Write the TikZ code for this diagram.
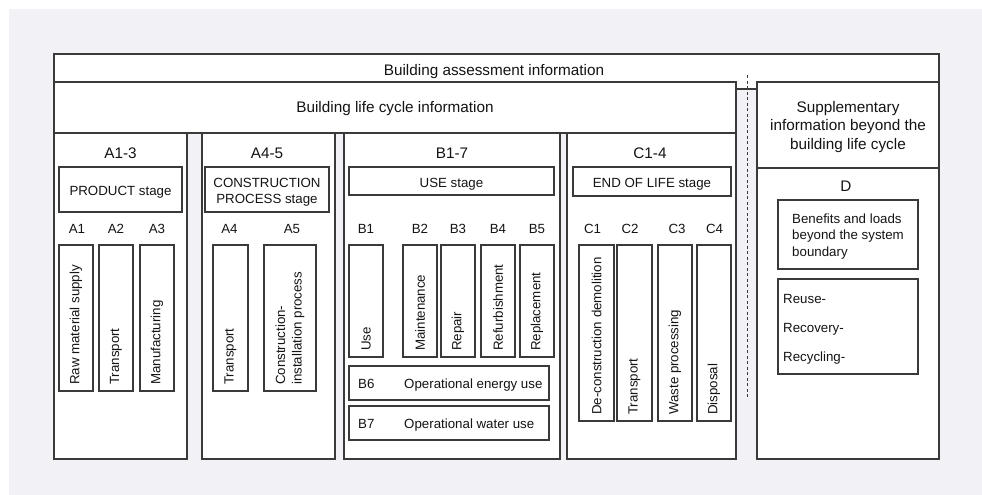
\documentclass[tikz,border=0pt]{standalone}
\usepackage{fontspec}
\setmainfont{Liberation Sans}
\usetikzlibrary{fit}
\definecolor{panelgrey}{RGB}{242,242,246}
\definecolor{edge}{RGB}{58,58,58}
\definecolor{ink}{RGB}{20,20,20}
\newcommand\hdfont{\fontsize{15.3}{18.3}\selectfont}
\newcommand\lbfont{\fontsize{13.3}{16.5}\selectfont}
% box from its top-left to its bottom-right corner (pixel-like units)
\newcommand\mkbox[5]{\node[frame, fit={(#2,#3) (#4,#5)}] (#1) {};}

\begin{document}
\begin{tikzpicture}[x=1pt,y=-1pt,
  frame/.style={draw=edge, fill=white, line width=1.1pt, inner sep=0pt, outer sep=0pt},
  head/.style={text=ink, font=\hdfont, inner sep=0pt, anchor=base},
  lab/.style={text=ink, font=\lbfont, inner sep=0pt, anchor=base},
  labw/.style={text=ink, font=\lbfont, inner sep=0pt, anchor=base west},
  vlab/.style={text=ink, font=\lbfont, inner sep=0pt, rotate=90, anchor=west, align=left},
  boundary/.style={draw=edge, line width=0.8pt, dash pattern=on 3pt off 2.5pt},
]
\useasboundingbox (0,0) rectangle (982,495);
\fill[panelgrey] (9,9) rectangle (982,495);

% outer frames
\mkbox{assess}{54}{54}{939}{89}
\mkbox{lifecycle}{54}{82}{736}{133}
\mkbox{supphead}{757}{82}{939}{168}
\mkbox{suppbody}{757}{168}{939}{459}

% module columns
\mkbox{colA}{54}{133}{187}{459}
\mkbox{colAc}{202}{133}{335}{459}
\mkbox{colB}{344}{133}{560}{459}
\mkbox{colC}{567}{133}{736}{459}

% stage boxes
\mkbox{prod}{59}{167}{182}{212}
\mkbox{constr}{205}{167}{329}{212}
\mkbox{usestage}{349}{167}{554}{195}
\mkbox{eol}{573}{167}{731}{196}

% module boxes
\mkbox{a1}{59}{245}{93}{391}
\mkbox{a2}{99}{245}{133}{391}
\mkbox{a3}{140}{245}{174}{391}
\mkbox{a4}{213}{245}{248}{391}
\mkbox{a5}{264}{245}{316}{391}
\mkbox{b1}{349}{245}{383}{357}
\mkbox{b2}{403}{245}{437}{357}
\mkbox{b3}{441}{245}{475}{357}
\mkbox{b4}{481}{245}{515}{357}
\mkbox{b5}{520}{245}{554}{357}
\mkbox{b6}{349}{366}{549}{400}
\mkbox{b7}{349}{406}{549}{440}
\mkbox{c1}{579}{245}{614}{421}
\mkbox{c2}{617}{245}{652}{421}
\mkbox{c3}{658}{245}{692}{421}
\mkbox{c4}{697}{245}{731}{421}
\mkbox{benefit}{778}{200}{918}{269}
\mkbox{reuse}{778}{279}{918}{374}

% system boundary
\coordinate (dtop) at (747,75);
\coordinate (dbot) at (747,398);
\draw[boundary] (dtop) -- (dbot);

% headings
\node[head] (tAssess) at (494,75) {Building assessment information};
\node[head] (tLife) at (395,112.5) {Building life cycle information};
\node[head] (tA13) at (120.5,158) {A1-3};
\node[head] (tA45) at (267,158) {A4-5};
\node[head] (tB17) at (452,158) {B1-7};
\node[head] (tC14) at (650,158) {C1-4};
\node[head] (tSup1) at (848,112.7) {Supplementary};
\node[head] (tSup2) at (848,130.8) {information beyond the};
\node[head] (tSup3) at (848,149.3) {building life cycle};
\node[head] (tD) at (846,191) {D};

% stage names
\node[lab] (tProd) at (120.5,195) {PRODUCT stage};
\node[lab] (tCon1) at (267,187.5) {CONSTRUCTION};
\node[lab] (tCon2) at (267,203.5) {PROCESS stage};
\node[lab] (tUse) at (451.5,187) {USE stage};
\node[lab] (tEol) at (652,187) {END OF LIFE stage};

% module codes
\node[lab] (kA1) at (77,233.5) {A1};
\node[lab] (kA2) at (116,233.5) {A2};
\node[lab] (kA3) at (157,233.5) {A3};
\node[lab] (kA4) at (229.5,233.5) {A4};
\node[lab] (kA5) at (292,233.5) {A5};
\node[lab] (kB1) at (366,233.5) {B1};
\node[lab] (kB2) at (420,233.5) {B2};
\node[lab] (kB3) at (458,233.5) {B3};
\node[lab] (kB4) at (498,233.5) {B4};
\node[lab] (kB5) at (537,233.5) {B5};
\node[lab] (kC1) at (592.5,233.5) {C1};
\node[lab] (kC2) at (630,233.5) {C2};
\node[lab] (kC3) at (677,233.5) {C3};
\node[lab] (kC4) at (714.5,233.5) {C4};

% module names
\node[vlab] (nA1) at ([yshift=6pt]a1.south) {Raw material supply};
\node[vlab] (nA2) at ([yshift=6pt]a2.south) {Transport};
\node[vlab] (nA3) at ([yshift=6pt]a3.south) {Manufacturing};
\node[vlab] (nA4) at ([yshift=6pt]a4.south) {Transport};
\node[vlab] (nA5) at ([yshift=6pt]a5.south) {Construction-\\installation process};
\node[vlab] (nB1) at ([yshift=6pt]b1.south) {Use};
\node[vlab] (nB2) at ([yshift=6pt]b2.south) {Maintenance};
\node[vlab] (nB3) at ([yshift=6pt]b3.south) {Repair};
\node[vlab] (nB4) at ([yshift=6pt]b4.south) {Refurbishment};
\node[vlab] (nB5) at ([yshift=6pt]b5.south) {Replacement};
\node[vlab] (nC1) at ([yshift=6pt]c1.south) {De-construction demolition};
\node[vlab] (nC2) at ([yshift=6pt]c2.south) {Transport};
\node[vlab] (nC3) at ([yshift=6pt]c3.south) {Waste processing};
\node[vlab] (nC4) at ([yshift=6pt]c4.south) {Disposal};

\node[labw] (kB6) at (358,388) {B6};
\node[labw] (nB6) at (404,388) {Operational energy use};
\node[labw] (kB7) at (358,428) {B7};
\node[labw] (nB7) at (404,428) {Operational water use};

% module D contents
\node[labw] (nBen1) at (792,223.3) {Benefits and loads};
\node[labw] (nBen2) at (792,239.8) {beyond the system};
\node[labw] (nBen3) at (792,256.5) {boundary};
\node[labw] (nReuse) at (783,303) {Reuse-};
\node[labw] (nRecov) at (783,332) {Recovery-};
\node[labw] (nRecyc) at (783,361) {Recycling-};
\end{tikzpicture}
\end{document}
